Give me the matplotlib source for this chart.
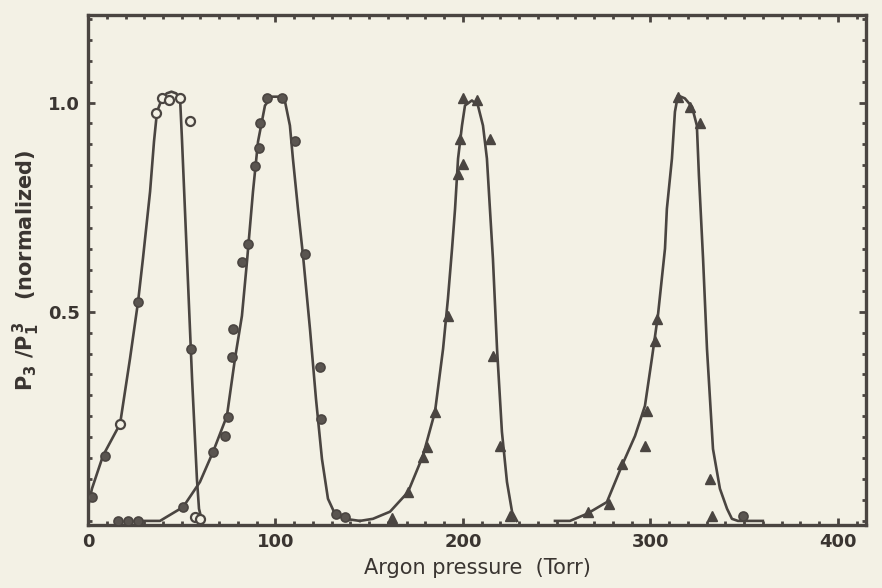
import numpy as np
import matplotlib
matplotlib.use('Agg')
import matplotlib.pyplot as plt
from matplotlib.ticker import MultipleLocator

# fitted curves (argon pressure in Torr, normalized P3/P1^3)
curva1_x = [0, 2.1, 8.0, 17.1, 22.4, 26.7, 29.3, 33.1, 35.2, 36.8, 39.5, 42.0, 44.5, 47.0, 49.1, 50.1, 52.8, 55.5, 58.1, 59.2, 60.8]
curva1_y = [0.033, 0.077, 0.156, 0.232, 0.388, 0.524, 0.627, 0.787, 0.907, 0.978, 1.01, 1.022, 1.026, 1.022, 1.01, 0.914, 0.627, 0.34, 0.10, 0.029, 0.0]

curva2_x = [25, 38.4, 42.1, 50.7, 59.7, 66.7, 74.1, 78.4, 82.1, 84.8, 88.0, 90.7, 94.4, 98.1, 101.3, 105.1, 107.7, 109.3, 112.0, 114.7, 118.4, 121.6, 124.8, 128.0, 131.7, 137.1, 145]
curva2_y = [0.0, 0.0, 0.01, 0.033, 0.093, 0.165, 0.251, 0.388, 0.49, 0.62, 0.787, 0.907, 0.993, 1.014, 1.014, 1.002, 0.945, 0.866, 0.746, 0.634, 0.459, 0.292, 0.148, 0.053, 0.017, 0.005, 0.0]

curva3_x = [145.1, 152.0, 161.1, 170.7, 178.7, 185.1, 189.4, 192.0, 194.2, 195.8, 197.4, 199.5, 201.1, 204.8, 208.0, 210.7, 212.8, 214.4, 216.0, 218.2, 220.8, 223.5, 226.2, 228.8]
curva3_y = [0.0, 0.005, 0.022, 0.069, 0.156, 0.261, 0.411, 0.531, 0.651, 0.746, 0.866, 0.945, 0.993, 1.005, 0.993, 0.945, 0.866, 0.746, 0.627, 0.411, 0.213, 0.093, 0.022, 0.0]

curva4_x = [249.1, 257.1, 266.2, 276.8, 284.8, 291.8, 297.1, 300.8, 304.0, 307.8, 308.8, 311.5, 313.1, 314.7, 318.4, 322.2, 324.8, 325.9, 328.1, 330.2, 333.4, 337.1, 340.9, 343.5, 346.7, 360]
curva4_y = [0.0, 0.0, 0.017, 0.045, 0.132, 0.203, 0.275, 0.388, 0.49, 0.651, 0.746, 0.866, 0.978, 1.017, 1.01, 0.99, 0.945, 0.825, 0.627, 0.411, 0.172, 0.077, 0.029, 0.005, 0.0, 0.0]

# measured points
c_abiertos_x = [17.1, 36.3, 39.5, 43.2, 49.1, 54.4, 57.1, 59.7]
c_abiertos_y = [0.232, 0.974, 1.01, 1.007, 1.01, 0.957, 0.01, 0.005]

c_llenos_x = [2.1, 9.1, 26.7, 54.9, 16.0, 21.3, 26.7,
              50.7, 66.7, 73.1, 74.7, 76.8, 77.3, 82.1, 85.3, 89.1, 91.2, 91.7, 95.5, 103.5, 110.4, 115.7, 123.8, 124.3, 132.3, 137.1, 349.4]
c_llenos_y = [0.057, 0.155, 0.524, 0.41, 0.0, 0.0, 0.0,
              0.033, 0.165, 0.203, 0.249, 0.392, 0.459, 0.62, 0.663, 0.849, 0.892, 0.95, 1.01, 1.01, 0.909, 0.639, 0.368, 0.244, 0.017, 0.01, 0.012]

triang_x = [162.2, 170.7, 178.7, 180.8, 185.1, 192.0, 197.4, 200.0, 198.4, 200.0, 207.5, 214.4, 216.0, 219.8, 225.1,
            266.7, 277.9, 284.8, 297.1, 298.2, 302.4, 303.5, 314.7, 321.1, 326.4, 331.8, 332.8]
triang_y = [0.007, 0.069, 0.153, 0.177, 0.261, 0.49, 0.83, 0.854, 0.914, 1.01, 1.005, 0.914, 0.395, 0.179, 0.012,
            0.022, 0.041, 0.136, 0.179, 0.263, 0.431, 0.483, 1.014, 0.99, 0.95, 0.10, 0.012]

tinta = '#4a4541'
papel = '#f3f1e5'

fig = plt.figure(figsize=(8.82, 5.88), dpi=100, facecolor=papel)
ax = fig.add_axes([0.0998, 0.107, 0.882, 0.868])
ax.set_facecolor(papel)

for cx, cy in [(curva1_x, curva1_y), (curva2_x, curva2_y), (curva3_x, curva3_y), (curva4_x, curva4_y)]:
    ax.plot(cx, cy, color=tinta, lw=1.9, solid_joinstyle='round', zorder=2)

ax.plot(c_abiertos_x, c_abiertos_y, 'o', ms=6.5, mfc=papel, mec=tinta, mew=1.6, zorder=3)
ax.plot(c_llenos_x, c_llenos_y, 'o', ms=6.5, mfc='#5a5550', mec=tinta, mew=1.2, zorder=3)
ax.plot(triang_x, triang_y, '^', ms=7, mfc=tinta, mec=tinta, zorder=3)

ax.set_xlim(0, 415)
ax.set_ylim(-0.01, 1.21)
ax.set_xticks([0, 100, 200, 300, 400])
ax.set_yticks([0.5, 1.0])
ax.xaxis.set_minor_locator(MultipleLocator(10))
ax.yaxis.set_minor_locator(MultipleLocator(0.05))
ax.tick_params(which='both', direction='in', top=True, right=True, color=tinta)
ax.tick_params(which='major', length=5, width=2, labelsize=13, labelcolor='#3a3531', pad=6)
ax.tick_params(which='minor', length=3, width=2)
for lab in ax.get_xticklabels() + ax.get_yticklabels():
    lab.set_fontweight('bold')
for s in ax.spines.values():
    s.set_linewidth(2.4)
    s.set_color(tinta)

ax.set_xlabel('Argon pressure  (Torr)', fontsize=15, color='#3a3531', labelpad=5)
ax.set_ylabel(r'$\mathbf{P_3\ /P_1^{\,3}}$   (normalized)', fontsize=15, color='#3a3531',
              fontweight='bold', labelpad=4)

fig.savefig('out.png', dpi=100, facecolor=papel)
